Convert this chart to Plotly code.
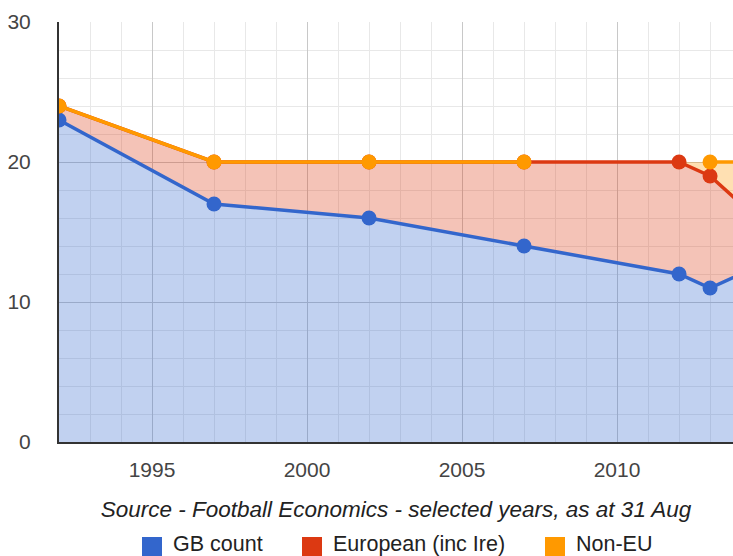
import plotly.graph_objects as go

years = [1992, 1997, 2002, 2007, 2012, 2013, 2014]
gb_count = [23, 17, 16, 14, 12, 11, 12]
european = [1, 3, 4, 6, 8, 8, 5]
non_eu = [0, 0, 0, 0, None, 1, 3]

series_names = ["GB count", "European (inc Ire)", "Non-EU"]
colors = ["#3366cc", "#dc3912", "#ff9900"]
fills = ["rgba(51,102,204,0.3)", "rgba(220,57,18,0.3)", "rgba(255,153,0,0.3)"]

# cumulative stacks
cum_gb = gb_count
cum_eu = [g + e for g, e in zip(gb_count, european)]
cum_non_fill = [c + (n if n is not None else 0) for c, n in zip(cum_eu, non_eu)]
cum_non_line = [c + n if n is not None else None for c, n in zip(cum_eu, non_eu)]

FONT = "Arial, 'Liberation Sans', sans-serif"

# plot-area geometry in pixels (for the hand-drawn legend)
W, H = 733, 556
ML, MR, MT, MB = 59, 0, 22, 114
PW, PH = W - ML - MR, H - MT - MB
legend_x_px = [142, 302, 545]
legend_y_px = 544
legend_sq = 20


def px_x(p):
    return (p - ML) / PW


def px_y(p):
    return (H - MB - p) / PH


fig = go.Figure()
# area fills
fig.add_trace(go.Scatter(x=years, y=cum_gb, mode="lines", line=dict(width=0),
                         fill="tozeroy", fillcolor=fills[0], showlegend=False, hoverinfo="skip"))
fig.add_trace(go.Scatter(x=years, y=cum_eu, mode="lines", line=dict(width=0),
                         fill="tonexty", fillcolor=fills[1], showlegend=False, hoverinfo="skip"))
fig.add_trace(go.Scatter(x=years, y=cum_non_fill, mode="lines", line=dict(width=0),
                         fill="tonexty", fillcolor=fills[2], showlegend=False, hoverinfo="skip"))
# lines with markers
for name, ys, c in zip(series_names, [cum_gb, cum_eu, cum_non_line], colors):
    fig.add_trace(go.Scatter(x=years, y=ys, mode="lines+markers", name=name,
                             line=dict(color=c, width=3.5),
                             marker=dict(color=c, size=15),
                             connectgaps=False, showlegend=False))

# hand-drawn legend (square swatches + labels)
shapes = []
annotations = []
for name, c, lx in zip(series_names, colors, legend_x_px):
    shapes.append(dict(type="rect", xref="paper", yref="paper",
                       x0=px_x(lx), x1=px_x(lx + legend_sq),
                       y0=px_y(legend_y_px - legend_sq / 2 + 3), y1=px_y(legend_y_px + legend_sq / 2 + 3),
                       fillcolor=c, line=dict(width=0)))
    annotations.append(dict(text=name, xref="paper", yref="paper",
                            x=px_x(lx + legend_sq + 9), y=px_y(legend_y_px),
                            xanchor="left", yanchor="middle", showarrow=False,
                            font=dict(family=FONT, size=21.5, color="#222")))

fig.update_layout(
    width=W, height=H,
    margin=dict(l=ML, r=MR, t=MT, b=MB),
    paper_bgcolor="white", plot_bgcolor="white",
    font=dict(family=FONT, size=21, color="#444"),
    showlegend=False,
    shapes=shapes,
    annotations=annotations,
    xaxis=dict(range=[1992, 2013.74], tick0=1995, dtick=5,
               showgrid=True, gridcolor="#c8c8c8", gridwidth=1,
               minor=dict(dtick=1, showgrid=True, gridcolor="#e8e8e8"),
               showline=True, linecolor="#333333", linewidth=2,
               zeroline=False, ticks="", ticklabelstandoff=8,
               tickfont=dict(size=21, color="#444"),
               title=dict(text="<i>Source - Football Economics - selected years, as at 31 Aug</i>",
                          font=dict(size=22.5, color="#222"), standoff=21)),
    yaxis=dict(range=[0, 30], dtick=10,
               showgrid=True, gridcolor="#c8c8c8", gridwidth=1,
               minor=dict(dtick=2, showgrid=True, gridcolor="#e8e8e8"),
               showline=True, linecolor="#333333", linewidth=2,
               zeroline=False, ticks="", ticklabelstandoff=22,
               tickfont=dict(size=21, color="#444")),
)

fig.write_html("out.html")
